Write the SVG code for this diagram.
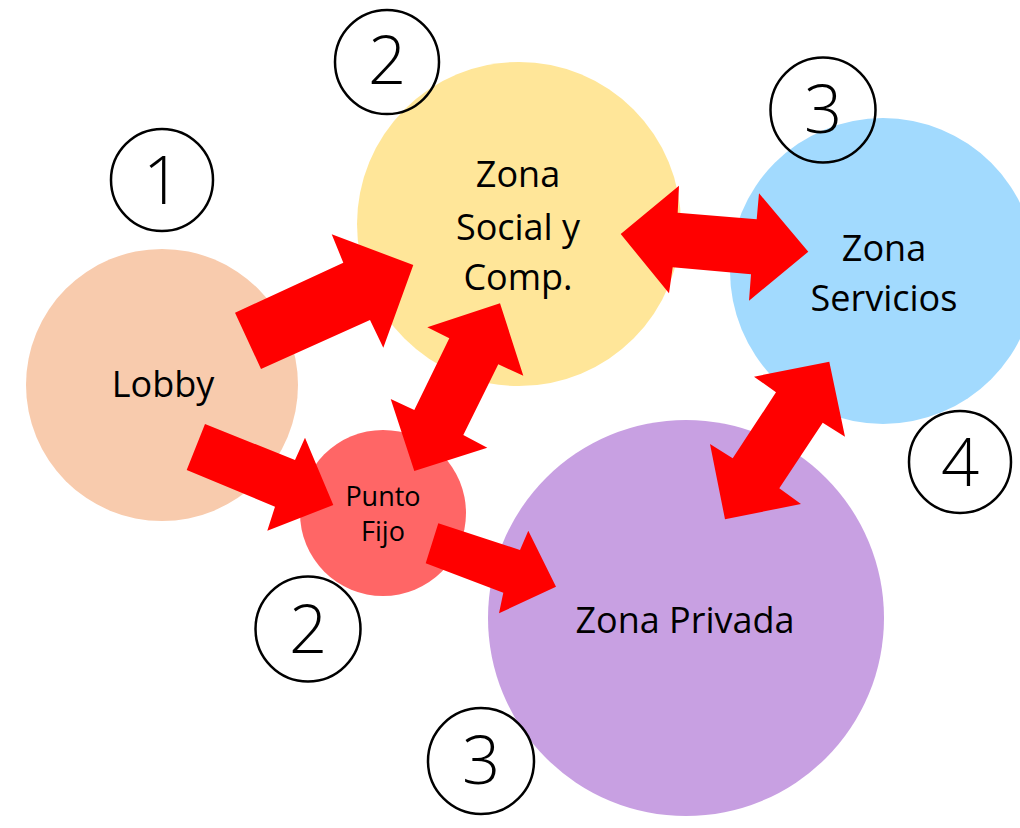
<svg xmlns="http://www.w3.org/2000/svg" width="1020" height="828" viewBox="0 0 1020 828">
<style>
.lbl{font-family:"Open Sans","Liberation Sans",sans-serif;font-size:36px;fill:#000;text-anchor:middle}
.sm{font-size:27px}
.num circle{fill:none;stroke:#000;stroke-width:2.5}
.num text{font-family:"Open Sans","Liberation Sans",sans-serif;font-weight:300;font-size:67px;fill:#000;text-anchor:middle}
.arr{fill:#FF0000}
</style>
<rect width="1020" height="828" fill="#fff"/>
<g id="lobby"><circle cx="162" cy="385" r="136" fill="#F8CBAD"/><text class="lbl" x="163" y="397">Lobby</text></g>
<g id="social"><circle cx="519" cy="224" r="162" fill="#FFE699"/>
<text class="lbl" x="518" y="187">Zona</text><text class="lbl" x="518" y="240">Social y</text><text class="lbl" x="518" y="290">Comp.</text></g>
<g id="servicios"><circle cx="883" cy="271" r="153" fill="#A2DAFE"/>
<text class="lbl" x="884" y="261">Zona</text><text class="lbl" x="884" y="311">Servicios</text></g>
<g id="privada"><circle cx="686" cy="618" r="198" fill="#C8A0E2"/><text class="lbl" x="685" y="633">Zona Privada</text></g>
<g id="puntofijo"><circle cx="383" cy="513" r="83" fill="#FF6666"/>
<text class="lbl sm" x="383" y="506">Punto</text><text class="lbl sm" x="383" y="541">Fijo</text></g>
<g id="connectors">
<polygon class="arr" points="235,312.7 343.3,262.7 331.7,234.3 413.3,265 383.3,347.7 370,320 261,369"/>
<polygon class="arr" points="205,424 295,460 305,437.7 333.3,505 267.3,530.7 275,506.7 186.7,470"/>
<polygon class="arr" points="500,303.3 523.3,375.7 498.3,364.3 463.3,435 487.3,447.7 414.3,471 390.7,399 414.3,410 449.3,338.3 427.3,327.3"/>
<polygon class="arr" points="438.3,523.3 520,550 528.3,530.7 556,586.7 499,613.3 503.3,592.7 425.7,563.3"/>
<polygon class="arr" points="620.7,234 679,185.7 677.7,212.7 756.7,219.3 759,193.3 808.3,251.7 749,300.7 751,274.3 672.7,267.3 669,293.3"/>
<polygon class="arr" points="829.3,361.7 845,436.7 822.7,422.7 779.3,488.3 801,504 725,519.3 710,444 732.7,458.3 776,392.3 754,376.7"/>
</g>
<g id="n1" class="num"><circle cx="162" cy="180" r="51"/><text x="162" y="204">1</text></g>
<g id="n2a" class="num"><circle cx="387" cy="62" r="52"/><text x="387" y="84">2</text></g>
<g id="n3a" class="num"><circle cx="823" cy="110" r="52.5"/><text x="823" y="133">3</text></g>
<g id="n4" class="num"><circle cx="960" cy="462" r="51"/><text x="960" y="486">4</text></g>
<g id="n2b" class="num"><circle cx="308" cy="629" r="52.5"/><text x="308" y="653">2</text></g>
<g id="n3b" class="num"><circle cx="481" cy="761" r="53"/><text x="481" y="784">3</text></g>
</svg>
